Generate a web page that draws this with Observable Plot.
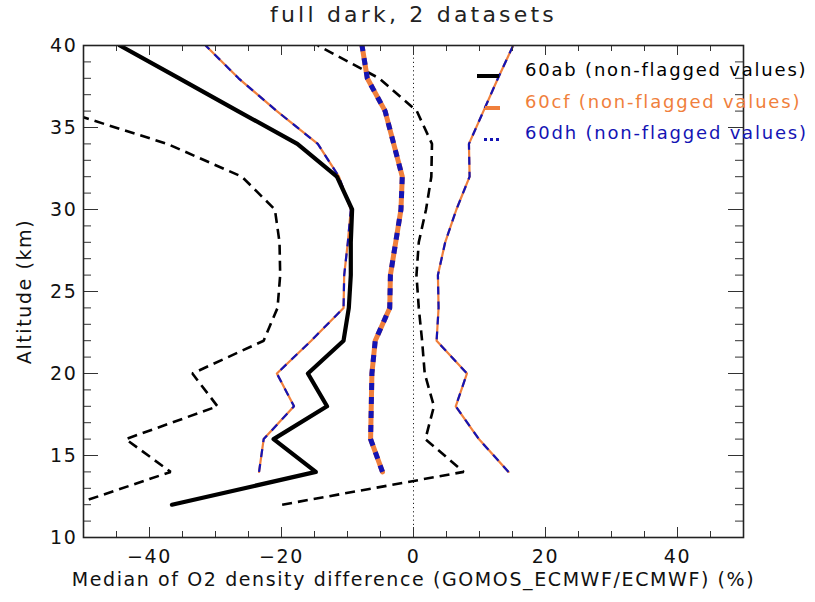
<!DOCTYPE html>
<html>
<head>
<meta charset="utf-8">
<script src="https://cdn.jsdelivr.net/npm/d3@7"></script>
<script src="https://cdn.jsdelivr.net/npm/@observablehq/plot@0.6"></script>
<style>
  html, body { margin: 0; padding: 0; background: #fff; }
  #wrap { position: relative; width: 815px; height: 602px; font-family: "DejaVu Sans", sans-serif; color: #111; }
  #title { height: 30px; line-height: 30px; text-align: center; font-size: 22px; letter-spacing: 3.2px; padding-left: 12px; color: #222; }
  .leg { position: absolute; font-size: 18px; letter-spacing: 1.8px; white-space: nowrap; line-height: 20px; }
  .sym { position: absolute; }
</style>
</head>
<body>
<div id="wrap">
  <div id="title">full dark, 2 datasets</div>
  <div id="chart"></div>
</div>
<script>
// Altitude levels (km)
const altAB = [12, 14, 16, 18, 20, 22, 24, 26, 28, 30, 32, 34, 36, 38, 40];
const altCF = [14, 16, 18, 20, 22, 24, 26, 28, 30, 32, 34, 36, 38, 40];
const altDH = [14, 16, 18, 20, 22, 24, 26, 28, 30, 32, 34, 36, 38, 40];

// 60ab: median and spread (%)
const abMedian = [-36.6, -14.8, -21.2, -13.1, -16.0, -10.6, -9.8, -9.5, -9.5, -9.3, -11.6, -17.6, -26.6, -35.5, -44.5];
const abLow    = [-51.5, -36.8, -43.6, -29.7, -33.5, -22.7, -20.6, -20.2, -20.3, -21.0, -26.0, -37.3, -53.0, -66.0, -80.0];
const abHigh   = [-19.9, 7.6, 1.8, 3.1, 1.7, 1.3, 0.8, 0.45, 0.8, 1.9, 2.7, 2.8, 0.5, -5.2, -14.5];

// 60cf: median and spread (%)
const cfMedian = [-4.7, -6.5, -6.4, -6.3, -5.8, -3.6, -3.5, -2.7, -1.9, -1.7, -3.0, -4.3, -7.0, -7.8];
const cfLow    = [-23.4, -22.7, -18.1, -20.7, -15.5, -10.6, -10.5, -9.95, -9.5, -11.3, -14.5, -20.7, -26.5, -31.5];
const cfHigh   = [14.4, 9.9, 6.4, 8.1, 3.5, 3.8, 3.7, 4.8, 6.5, 8.5, 8.4, 10.6, 12.8, 15.1];

// 60dh: median and spread (%)
const dhMedian = [-4.7, -6.5, -6.4, -6.3, -5.8, -3.6, -3.5, -2.7, -1.9, -1.7, -3.0, -4.3, -7.0, -7.8];
const dhLow    = [-23.4, -22.7, -18.1, -20.7, -15.5, -10.6, -10.5, -9.95, -9.5, -11.3, -14.5, -20.7, -26.5, -31.5];
const dhHigh   = [14.4, 9.9, 6.4, 8.1, 3.5, 3.8, 3.7, 4.8, 6.5, 8.5, 8.4, 10.6, 12.8, 15.1];

// Ticks
const xLabelTicks = [-40, -20, 0, 20, 40];
const xMinorTicks = [-45, -40, -35, -30, -25, -20, -15, -10, -5, 0, 5, 10, 15, 20, 25, 30, 35, 40, 45];
const yLabelTicks = [10, 15, 20, 25, 30, 35, 40];
const yMinorTicks = [11,12,13,14,16,17,18,19,21,22,23,24,26,27,28,29,31,32,33,34,36,37,38,39];

const legendLabels = ["60ab (non-flagged values)", "60cf (non-flagged values)", "60dh (non-flagged values)"];
const colors = {ab: "#000000", cf: "#f07f3c", dh: "#1414b4"};

const W = 815, H = 572;
const mL = 83, mR = 72, mT = 15, mB = 65;
const fw = W - mL - mR, fh = H - mT - mB;

const prof = (vals, alts) => vals.map((v, i) => ({x: v, y: alts[i]}));
const dashed = {strokeLinecap: "butt", strokeLinejoin: "miter"};

const chart = Plot.plot({
  width: W, height: H,
  marginLeft: mL, marginRight: mR, marginTop: mT, marginBottom: mB,
  x: {domain: [-50, 50]},
  y: {domain: [10, 40]},
  style: {fontFamily: "DejaVu Sans, sans-serif", color: "#111", background: "#fff", letterSpacing: "1.6px"},
  marks: [
    Plot.ruleX([0], {stroke: "#222", strokeWidth: 1, strokeDasharray: "1.2,3"}),
    // 60ab spread (dashed black)
    Plot.line(prof(abLow, altAB), {x: "x", y: "y", stroke: colors.ab, strokeWidth: 2.6, strokeDasharray: "10,6", ...dashed, clip: true}),
    Plot.line(prof(abHigh, altAB), {x: "x", y: "y", stroke: colors.ab, strokeWidth: 2.6, strokeDasharray: "10,6", ...dashed, clip: true}),
    // 60cf spread (thin orange) + 60dh spread (thin blue dashed)
    Plot.line(prof(cfLow, altCF), {x: "x", y: "y", stroke: colors.cf, strokeWidth: 2.2, clip: true}),
    Plot.line(prof(cfHigh, altCF), {x: "x", y: "y", stroke: colors.cf, strokeWidth: 2.2, clip: true}),
    Plot.line(prof(dhLow, altDH), {x: "x", y: "y", stroke: colors.dh, strokeWidth: 2.2, strokeDasharray: "8,7", ...dashed, clip: true}),
    Plot.line(prof(dhHigh, altDH), {x: "x", y: "y", stroke: colors.dh, strokeWidth: 2.2, strokeDasharray: "8,7", ...dashed, clip: true}),
    // 60ab median (thick black)
    Plot.line(prof(abMedian, altAB), {x: "x", y: "y", stroke: colors.ab, strokeWidth: 4.2, clip: true}),
    // 60cf median (thick orange) + 60dh median (thick blue dashed)
    Plot.line(prof(cfMedian, altCF), {x: "x", y: "y", stroke: colors.cf, strokeWidth: 5, clip: true}),
    Plot.line(prof(dhMedian, altDH), {x: "x", y: "y", stroke: colors.dh, strokeWidth: 5, strokeDasharray: "7,7", ...dashed, clip: true}),
    // inward ticks
    Plot.tickX(xMinorTicks, {x: d => d, stroke: "#333", insetTop: fh - 6}),
    Plot.tickX(xMinorTicks, {x: d => d, stroke: "#333", insetBottom: fh - 6}),
    Plot.tickX(xLabelTicks, {x: d => d, stroke: "#333", insetTop: fh - 10}),
    Plot.tickX(xLabelTicks, {x: d => d, stroke: "#333", insetBottom: fh - 10}),
    Plot.tickY(yMinorTicks, {y: d => d, stroke: "#333", insetRight: fw - 8}),
    Plot.tickY(yMinorTicks, {y: d => d, stroke: "#333", insetLeft: fw - 8}),
    Plot.tickY(yLabelTicks, {y: d => d, stroke: "#333", insetRight: fw - 15}),
    Plot.tickY(yLabelTicks, {y: d => d, stroke: "#333", insetLeft: fw - 15}),
    Plot.frame({stroke: "#222", strokeWidth: 1.6}),
    Plot.axisX({ticks: xLabelTicks, tickSize: 0, tickPadding: 12, fontSize: 19,
      tickFormat: d => (d < 0 ? "\u2212" + Math.abs(d) : String(d)),
      label: "Median of O2 density difference (GOMOS_ECMWF/ECMWF) (%)",
      labelAnchor: "center", labelArrow: "none", labelOffset: 48}),
    Plot.axisY({ticks: yLabelTicks, tickSize: 0, tickPadding: 6, fontSize: 19,
      label: "Altitude (km)", labelAnchor: "center", labelArrow: "none", labelOffset: 66})
  ]
});
document.getElementById("chart").appendChild(chart);

// Legend (HTML overlay)
const wrap = document.getElementById("wrap");
const legY = [70, 102, 133];
const legColors = [colors.ab, colors.cf, colors.dh];
legendLabels.forEach((t, i) => {
  const d = document.createElement("div");
  d.className = "leg";
  d.style.left = "525px";
  d.style.top = (legY[i] - 10) + "px";
  d.style.color = legColors[i];
  d.textContent = t;
  wrap.appendChild(d);
});
// symbols
const s1 = document.createElement("div");
s1.className = "sym";
Object.assign(s1.style, {left: "477px", top: "74px", width: "22px", height: "4px", background: colors.ab});
wrap.appendChild(s1);
const s2 = document.createElement("div");
s2.className = "sym";
Object.assign(s2.style, {left: "485px", top: "106px", width: "15px", height: "4px", background: colors.cf});
wrap.appendChild(s2);
for (let k = 0; k < 3; k++) {
  const s = document.createElement("div");
  s.className = "sym";
  Object.assign(s.style, {left: (484 + k * 6) + "px", top: "138px", width: "3px", height: "3px", background: colors.dh});
  wrap.appendChild(s);
}
</script>
</body>
</html>
